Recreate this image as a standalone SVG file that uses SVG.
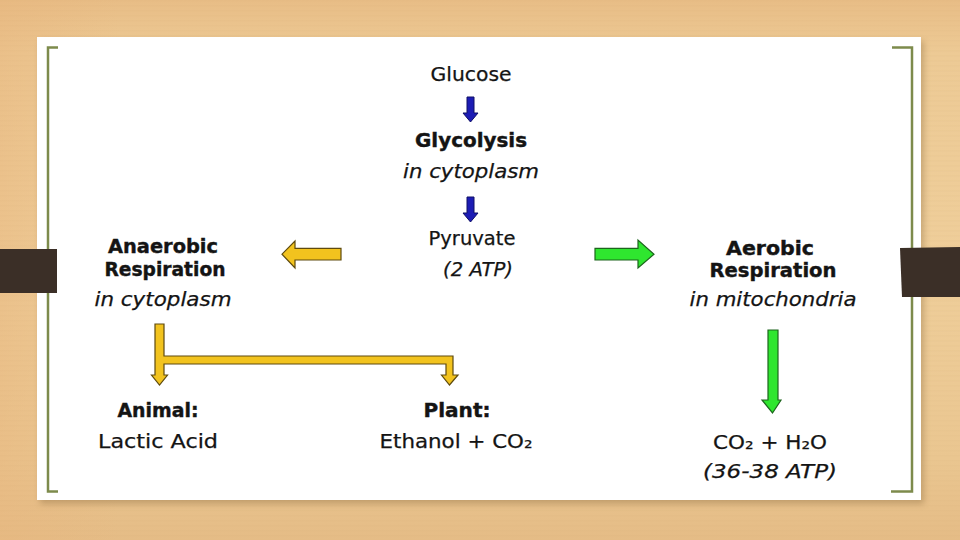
<svg xmlns="http://www.w3.org/2000/svg" width="960" height="540" viewBox="0 0 960 540">
<defs>
<linearGradient id="wood" x1="0" y1="0" x2="0" y2="1">
<stop offset="0" stop-color="#e8bd86"/>
<stop offset="0.1" stop-color="#edca95"/>
<stop offset="0.5" stop-color="#efce9a"/>
<stop offset="0.85" stop-color="#eac690"/>
<stop offset="1" stop-color="#e5bc86"/>
</linearGradient>
<linearGradient id="woodL" x1="0" y1="0" x2="1" y2="0">
<stop offset="0" stop-color="#e8b67e" stop-opacity="0.5"/>
<stop offset="1" stop-color="#e8b67e" stop-opacity="0"/>
</linearGradient>
<pattern id="grain" width="960" height="5" patternUnits="userSpaceOnUse">
<rect width="960" height="1.5" fill="#c99a5e" opacity="0.05"/>
</pattern>
<filter id="shadow" x="-5%" y="-5%" width="110%" height="115%">
<feGaussianBlur stdDeviation="3"/>
</filter>
<style>
.t{font-family:"DejaVu Sans","Liberation Sans",sans-serif;fill:#141414;text-anchor:middle;font-size:19px;stroke:#141414;stroke-width:0.25}
.b{font-weight:bold;stroke-width:0.4}
.i{font-style:italic}
.blue{fill:#1c1cb4;stroke:#0e0e66;stroke-width:1}
.yel{fill:#f2c31e;stroke:#5e4a0e;stroke-width:1.2;stroke-linejoin:miter}
.grn{fill:#2fe62f;stroke:#1d651d;stroke-width:1.2}
.brk{fill:none;stroke:#7d8b4c;stroke-width:2.5}
</style>
</defs>
<rect width="960" height="540" fill="url(#wood)"/>
<rect width="120" height="540" fill="url(#woodL)"/>
<rect width="960" height="540" fill="url(#grain)"/>
<rect x="40" y="41" width="884" height="463" fill="#8a6a40" opacity="0.4" filter="url(#shadow)"/>
<rect x="37" y="37" width="884" height="463" fill="#ffffff"/>
<path class="brk" d="M58,47.5 H48 V491.5 H58"/>
<path class="brk" d="M892,47.5 H912 V491.5 H891"/>
<rect x="0" y="249" width="57" height="44" fill="#3b2f27"/>
<path d="M900,248 L960,247 V297 L902,297 Z" fill="#3b2f27"/>

<g id="connectors">
<path class="blue" d="M467,97 H474 V113 H478 L470.5,122 L463,113 H467 Z"/>
<path class="blue" d="M467,197 H474 V213 H478 L470.5,222 L463,213 H467 Z"/>
<path class="yel" d="M341,248.3 V260 H295 V268 L282,254.2 L295,241 V248.3 Z"/>
<path class="grn" d="M595,248.3 H638 V240 L654,254.2 L638,268 V260 H595 Z"/>
<path class="grn" d="M768,330 H778 V400 H781 L772.5,413 L762,400 H768 Z"/>
<path class="yel" d="M155,324 H164 V356 H453 V375 H458 L449.5,385 L441.5,375 H446 V364 H164 V375 H167.5 L159.5,385 L151.5,375 H155 Z"/>
</g>

<g id="glucose"><text class="t" x="471" y="81" textLength="81" lengthAdjust="spacingAndGlyphs">Glucose</text></g>
<g id="glycolysis">
<text class="t b" x="471" y="147" textLength="112" lengthAdjust="spacingAndGlyphs">Glycolysis</text>
<text class="t i" x="471" y="178" textLength="136" lengthAdjust="spacingAndGlyphs">in cytoplasm</text>
</g>
<g id="pyruvate">
<text class="t" x="472" y="245" textLength="87" lengthAdjust="spacingAndGlyphs">Pyruvate</text>
<text class="t i" x="478" y="276" textLength="70" lengthAdjust="spacingAndGlyphs">(2 ATP)</text>
</g>
<g id="anaerobic">
<text class="t b" x="163" y="253" textLength="110" lengthAdjust="spacingAndGlyphs">Anaerobic</text>
<text class="t b" x="165" y="276" textLength="121" lengthAdjust="spacingAndGlyphs">Respiration</text>
<text class="t i" x="163" y="306" textLength="137" lengthAdjust="spacingAndGlyphs">in cytoplasm</text>
</g>
<g id="aerobic">
<text class="t b" x="770" y="255" textLength="88" lengthAdjust="spacingAndGlyphs">Aerobic</text>
<text class="t b" x="773" y="277" textLength="127" lengthAdjust="spacingAndGlyphs">Respiration</text>
<text class="t i" x="773" y="306" textLength="167" lengthAdjust="spacingAndGlyphs">in mitochondria</text>
</g>
<g id="animal">
<text class="t b" x="158" y="417" textLength="81" lengthAdjust="spacingAndGlyphs">Animal:</text>
<text class="t" x="158" y="448" textLength="120" lengthAdjust="spacingAndGlyphs">Lactic Acid</text>
</g>
<g id="plant">
<text class="t b" x="457" y="417" textLength="67" lengthAdjust="spacingAndGlyphs">Plant:</text>
<text class="t" x="456" y="448" textLength="153" lengthAdjust="spacingAndGlyphs">Ethanol + CO₂</text>
</g>
<g id="products">
<text class="t" x="770" y="449" textLength="114" lengthAdjust="spacingAndGlyphs">CO₂ + H₂O</text>
<text class="t i" x="770" y="478" textLength="134" lengthAdjust="spacingAndGlyphs">(36-38 ATP)</text>
</g>
</svg>
